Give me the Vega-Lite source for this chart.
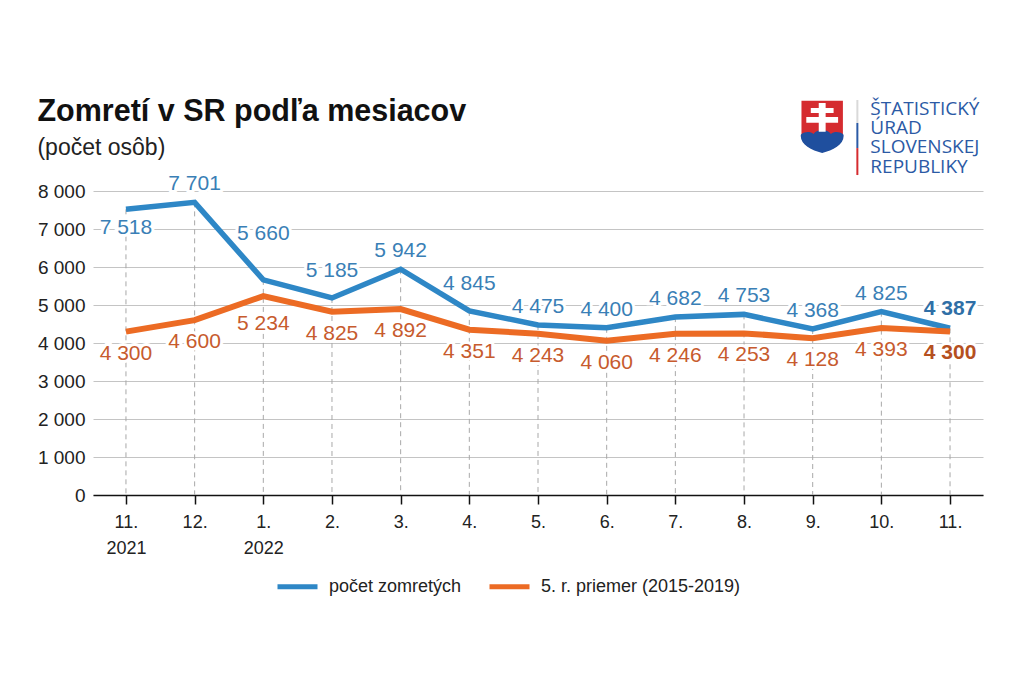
{
  "$schema": "https://vega.github.io/schema/vega-lite/v6.json",
  "width": 890,
  "height": 418,
  "autosize": "none",
  "padding": {"left": 93, "top": 77, "right": 41, "bottom": 187},
  "background": "white",
  "title": {
    "text": "Zomretí v SR podľa mesiacov",
    "subtitle": "(počet osôb)",
    "anchor": "start",
    "frame": "bounds",
    "offset": -83,
    "font": "Liberation Sans",
    "fontSize": 30.5,
    "fontWeight": "bold",
    "color": "#111111",
    "subtitleFont": "Liberation Sans",
    "subtitleFontSize": 23,
    "subtitleColor": "#222222",
    "subtitlePadding": 10
  },
  "config": {
    "font": "Liberation Sans",
    "view": {"stroke": null},
    "locale": {"number": {"decimal": ",", "thousands": " ", "grouping": [3], "currency": ["", " €"]}}
  },
  "datasets": {
    "d": [
      {"m": "11/2021", "s": "počet zomretých", "v": 7518},
      {"m": "12/2021", "s": "počet zomretých", "v": 7701},
      {"m": "1/2022", "s": "počet zomretých", "v": 5660},
      {"m": "2/2022", "s": "počet zomretých", "v": 5185},
      {"m": "3/2022", "s": "počet zomretých", "v": 5942},
      {"m": "4/2022", "s": "počet zomretých", "v": 4845},
      {"m": "5/2022", "s": "počet zomretých", "v": 4475},
      {"m": "6/2022", "s": "počet zomretých", "v": 4400},
      {"m": "7/2022", "s": "počet zomretých", "v": 4682},
      {"m": "8/2022", "s": "počet zomretých", "v": 4753},
      {"m": "9/2022", "s": "počet zomretých", "v": 4368},
      {"m": "10/2022", "s": "počet zomretých", "v": 4825},
      {"m": "11/2022", "s": "počet zomretých", "v": 4387},
      {"m": "11/2021", "s": "5. r. priemer (2015-2019)", "v": 4300},
      {"m": "12/2021", "s": "5. r. priemer (2015-2019)", "v": 4600},
      {"m": "1/2022", "s": "5. r. priemer (2015-2019)", "v": 5234},
      {"m": "2/2022", "s": "5. r. priemer (2015-2019)", "v": 4825},
      {"m": "3/2022", "s": "5. r. priemer (2015-2019)", "v": 4892},
      {"m": "4/2022", "s": "5. r. priemer (2015-2019)", "v": 4351},
      {"m": "5/2022", "s": "5. r. priemer (2015-2019)", "v": 4243},
      {"m": "6/2022", "s": "5. r. priemer (2015-2019)", "v": 4060},
      {"m": "7/2022", "s": "5. r. priemer (2015-2019)", "v": 4246},
      {"m": "8/2022", "s": "5. r. priemer (2015-2019)", "v": 4253},
      {"m": "9/2022", "s": "5. r. priemer (2015-2019)", "v": 4128},
      {"m": "10/2022", "s": "5. r. priemer (2015-2019)", "v": 4393},
      {"m": "11/2022", "s": "5. r. priemer (2015-2019)", "v": 4300}
    ]
  },
  "layer": [
    {
      "data": {"name": "d"},
      "encoding": {
        "x": {
          "field": "m",
          "type": "ordinal",
          "sort": null,
          "scale": {
            "type": "point",
            "padding": 0.48,
            "domain": ["11/2021", "12/2021", "1/2022", "2/2022", "3/2022", "4/2022", "5/2022", "6/2022", "7/2022", "8/2022", "9/2022", "10/2022", "11/2022"]
          },
          "axis": {
            "title": null,
            "labelAngle": 0,
            "labelExpr": "datum.value == '11/2021' ? ['11.', '2021'] : datum.value == '1/2022' ? ['1.', '2022'] : slice(datum.value, 0, indexof(datum.value, '/')) + '.'",
            "labelFontSize": 18,
            "labelColor": "#222222",
            "labelPadding": 9,
            "labelLineHeight": 26,
            "labelBaseline": "top",
            "domainColor": "#111111",
            "domainWidth": 1.5,
            "tickColor": "#111111",
            "tickWidth": 1.5,
            "tickSize": 9,
            "grid": false
          }
        },
        "y": {
          "field": "v",
          "type": "quantitative",
          "scale": {"domain": [0, 11000], "nice": false, "zero": true},
          "axis": {
            "title": null,
            "values": [0, 1000, 2000, 3000, 4000, 5000, 6000, 7000, 8000],
            "format": ",d",
            "domain": false,
            "ticks": false,
            "labelFontSize": 19,
            "labelColor": "#222222",
            "labelPadding": 8,
            "gridColor": "#c4c4c4",
            "gridWidth": 1
          }
        }
      },
      "layer": [
        {
          "transform": [{"filter": "datum.s == 'počet zomretých'"}],
          "mark": {"type": "rule", "color": "#a8a8a8", "strokeWidth": 1, "strokeDash": [5, 4]},
          "encoding": {"y2": {"datum": 0}}
        },
        {
          "transform": [{"filter": "datum.s == 'počet zomretých'"}],
          "mark": {"type": "line", "strokeWidth": 5.5},
          "encoding": {
            "color": {
              "field": "s",
              "type": "nominal",
              "scale": {"domain": ["počet zomretých", "5. r. priemer (2015-2019)"], "range": ["#2e87c6", "#ec6b24"]},
              "legend": {
                "title": null,
                "orient": "none",
                "legendX": 182,
                "legendY": 487,
                "direction": "horizontal",
                "symbolType": "stroke",
                "symbolSize": 1600,
                "symbolStrokeWidth": 5,
                "labelFontSize": 18,
                "labelColor": "#222222",
                "labelOffset": 9,
                "labelLimit": 400,
                "columnPadding": 17
              }
            }
          }
        },
        {
          "transform": [{"filter": "datum.s != 'počet zomretých'"}],
          "mark": {"type": "line", "strokeWidth": 6},
          "encoding": {"color": {"field": "s", "type": "nominal"}}
        },
        {
          "transform": [{"filter": "datum.s == 'počet zomretých' && indexof(['12/2021','3/2022','5/2022','6/2022','7/2022','8/2022','9/2022','10/2022'], datum.m) >= 0"}],
          "encoding": {"text": {"field": "v", "type": "quantitative", "format": ",d"}},
          "layer": [
            {"mark": {"type": "text", "dy": -18, "fontSize": 21, "fill": "white", "stroke": "white", "strokeWidth": 6}},
            {"mark": {"type": "text", "dy": -18, "fontSize": 21, "fill": "#3a7fb6"}}
          ]
        },
        {
          "transform": [{"filter": "datum.s == 'počet zomretých' && (datum.m == '2/2022' || datum.m == '4/2022')"}],
          "encoding": {"text": {"field": "v", "type": "quantitative", "format": ",d"}},
          "layer": [
            {"mark": {"type": "text", "dy": -27, "fontSize": 21, "fill": "white", "stroke": "white", "strokeWidth": 6}},
            {"mark": {"type": "text", "dy": -27, "fontSize": 21, "fill": "#3a7fb6"}}
          ]
        },
        {
          "transform": [{"filter": "datum.s == 'počet zomretých' && datum.m == '1/2022'"}],
          "encoding": {"text": {"field": "v", "type": "quantitative", "format": ",d"}},
          "layer": [
            {"mark": {"type": "text", "dy": -46, "fontSize": 21, "fill": "white", "stroke": "white", "strokeWidth": 6}},
            {"mark": {"type": "text", "dy": -46, "fontSize": 21, "fill": "#3a7fb6"}}
          ]
        },
        {
          "transform": [{"filter": "datum.s == 'počet zomretých' && datum.m == '11/2021'"}],
          "encoding": {"text": {"field": "v", "type": "quantitative", "format": ",d"}},
          "layer": [
            {"mark": {"type": "text", "dy": 19, "fontSize": 21, "fill": "white", "stroke": "white", "strokeWidth": 6}},
            {"mark": {"type": "text", "dy": 19, "fontSize": 21, "fill": "#3a7fb6"}}
          ]
        },
        {
          "transform": [{"filter": "datum.s == 'počet zomretých' && datum.m == '11/2022'"}],
          "encoding": {"text": {"field": "v", "type": "quantitative", "format": ",d"}},
          "layer": [
            {"mark": {"type": "text", "dy": -19, "fontSize": 21, "fontWeight": "bold", "fill": "white", "stroke": "white", "strokeWidth": 6}},
            {"mark": {"type": "text", "dy": -19, "fontSize": 21, "fontWeight": "bold", "fill": "#2f6fa6"}}
          ]
        },
        {
          "transform": [{"filter": "datum.s != 'počet zomretých' && datum.m != '11/2022' && datum.m != '1/2022'"}],
          "encoding": {"text": {"field": "v", "type": "quantitative", "format": ",d"}},
          "layer": [
            {"mark": {"type": "text", "dy": 22, "fontSize": 21, "fill": "white", "stroke": "white", "strokeWidth": 6}},
            {"mark": {"type": "text", "dy": 22, "fontSize": 21, "fill": "#c75b2e"}}
          ]
        },
        {
          "transform": [{"filter": "datum.s != 'počet zomretých' && datum.m == '1/2022'"}],
          "encoding": {"text": {"field": "v", "type": "quantitative", "format": ",d"}},
          "layer": [
            {"mark": {"type": "text", "dy": 28, "fontSize": 21, "fill": "white", "stroke": "white", "strokeWidth": 6}},
            {"mark": {"type": "text", "dy": 28, "fontSize": 21, "fill": "#c75b2e"}}
          ]
        },
        {
          "transform": [{"filter": "datum.s != 'počet zomretých' && datum.m == '11/2022'"}],
          "encoding": {"text": {"field": "v", "type": "quantitative", "format": ",d"}},
          "layer": [
            {"mark": {"type": "text", "dy": 21, "fontSize": 21, "fontWeight": "bold", "fill": "white", "stroke": "white", "strokeWidth": 6}},
            {"mark": {"type": "text", "dy": 21, "fontSize": 21, "fontWeight": "bold", "fill": "#b5501f"}}
          ]
        }
      ]
    },
    {
      "data": {"values": [{}]},
      "mark": {"type": "point", "filled": true, "opacity": 1, "size": 2809, "xOffset": 9.5, "color": "#d52b2f", "stroke": "white", "strokeWidth": 1.5,
        "shape": "M-0.81,-1 L0.81,-1 L0.81,0.35 C0.81,0.7 0.4,0.9 0,1 C-0.4,0.9 -0.81,0.7 -0.81,0.35 Z"},
      "encoding": {"x": {"datum": "9/2022", "type": "ordinal"}, "y": {"datum": 9697, "type": "quantitative"}}
    },
    {
      "data": {"values": [{}]},
      "mark": {"type": "point", "filled": true, "opacity": 1, "size": 2809, "xOffset": 9.5, "color": "#1f4f9e",
        "shape": "M-0.8,0.3 C-0.65,0.18 -0.45,0.18 -0.33,0.28 C-0.2,0.08 0.2,0.08 0.33,0.28 C0.45,0.18 0.65,0.18 0.8,0.3 L0.81,0.35 C0.81,0.7 0.4,0.9 0,1 C-0.4,0.9 -0.81,0.7 -0.81,0.35 Z"},
      "encoding": {"x": {"datum": "9/2022", "type": "ordinal"}, "y": {"datum": 9697, "type": "quantitative"}}
    },
    {
      "data": {"values": [{}]},
      "mark": {"type": "point", "filled": true, "opacity": 1, "size": 2809, "xOffset": 9.5, "color": "#ffffff",
        "shape": "M-0.13,-0.89 L0.13,-0.89 L0.13,0.2 L-0.13,0.2 Z M-0.43,-0.7 L0.43,-0.7 L0.43,-0.51 L-0.43,-0.51 Z M-0.6,-0.36 L0.6,-0.36 L0.6,-0.14 L-0.6,-0.14 Z"},
      "encoding": {"x": {"datum": "9/2022", "type": "ordinal"}, "y": {"datum": 9697, "type": "quantitative"}}
    },
    {
      "data": {"values": [{}]},
      "mark": {"type": "rule", "xOffset": -24, "strokeWidth": 2, "color": "#d9d9d9"},
      "encoding": {"x": {"datum": "10/2022", "type": "ordinal"}, "y": {"datum": 10395, "type": "quantitative"}, "y2": {"datum": 9790}}
    },
    {
      "data": {"values": [{}]},
      "mark": {"type": "rule", "xOffset": -24, "strokeWidth": 2, "color": "#2b5aa5"},
      "encoding": {"x": {"datum": "10/2022", "type": "ordinal"}, "y": {"datum": 9790, "type": "quantitative"}, "y2": {"datum": 9130}}
    },
    {
      "data": {"values": [{}]},
      "mark": {"type": "rule", "xOffset": -24, "strokeWidth": 2, "color": "#d52b2f"},
      "encoding": {"x": {"datum": "10/2022", "type": "ordinal"}, "y": {"datum": 9130, "type": "quantitative"}, "y2": {"datum": 8420}}
    },
    {
      "data": {"values": [{}]},
      "mark": {"type": "text", "align": "left", "baseline": "alphabetic", "dx": -11, "font": "Open Sans", "fontSize": 19, "lineHeight": 19.2, "color": "#2b5aa5",
        "text": ["ŠTATISTICKÝ", "ÚRAD", "SLOVENSKEJ", "REPUBLIKY"]},
      "encoding": {"x": {"datum": "10/2022", "type": "ordinal"}, "y": {"datum": 10000, "type": "quantitative"}}
    }
  ]
}
